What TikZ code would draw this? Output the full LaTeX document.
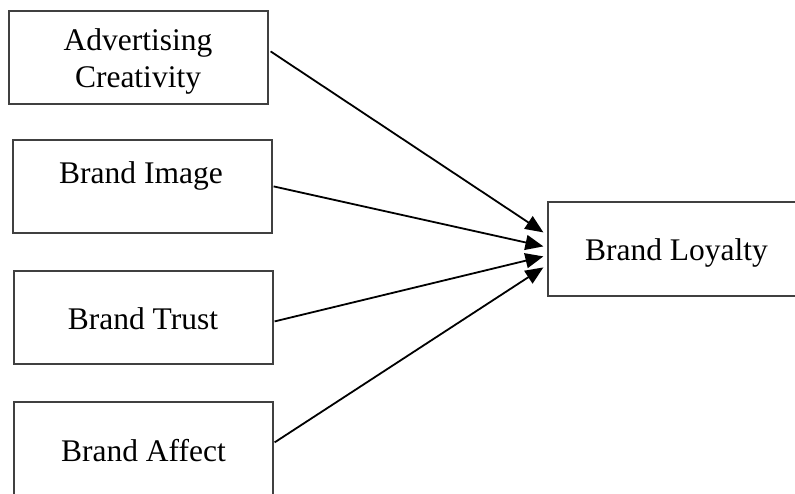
\documentclass[tikz,border=0pt]{standalone}
\usepackage{fontspec}
\setmainfont{Liberation Serif}
\usetikzlibrary{arrows.meta,calc}
\begin{document}
\begin{tikzpicture}[x=1pt,y=-1pt,
  box/.style={draw=black!75,line width=1.2pt,rectangle,inner sep=0pt,minimum width=259pt,minimum height=93pt},
  lbl/.style={font=\fontsize{31.5}{37}\selectfont,anchor=base,inner sep=0pt},
  arr/.style={line width=1.8pt,-{Triangle[length=18pt,width=15pt]}}]
\useasboundingbox (0,0) rectangle (795,493);
% boxes
\node[box] (b1) at (138.5,57.5) {};
\node[box] (b2) at (142.5,186.5) {};
\node[box] (b3) at (143.5,317.5) {};
\node[box] (b4) at (143.5,448.5) {};
\node[box,minimum width=257pt,minimum height=94pt] (b5) at (676.5,249) {};
% labels
\node[lbl] (t1a) at (138,50) {Advertising};
\node[lbl] (t1b) at (138,87) {Creativity};
\node[lbl] (t2) at (141,183) {Brand Image};
\node[lbl] (t3) at (143,329) {Brand Trust};
\node[lbl] (t4) at (143.5,461) {Brand Affect};
\node[lbl] (t5) at (676.5,260) {Brand Loyalty};
% connector ends
\coordinate (s1) at ($(b1.north east)+(2,41)$);
\coordinate (s2) at ($(b2.north east)+(1,47)$);
\coordinate (s3) at ($(b3.north east)+(1,51)$);
\coordinate (s4) at ($(b4.north east)+(1,41)$);
\coordinate (e1) at ($(b5.north west)+(-4,31)$);
\coordinate (e2) at ($(b5.north west)+(-4,45)$);
\coordinate (e3) at ($(b5.north west)+(-4,55)$);
\coordinate (e4) at ($(b5.north west)+(-4,66)$);
\draw[arr] (s1) -- (e1);
\draw[arr] (s2) -- (e2);
\draw[arr] (s3) -- (e3);
\draw[arr] (s4) -- (e4);
\end{tikzpicture}
\end{document}
